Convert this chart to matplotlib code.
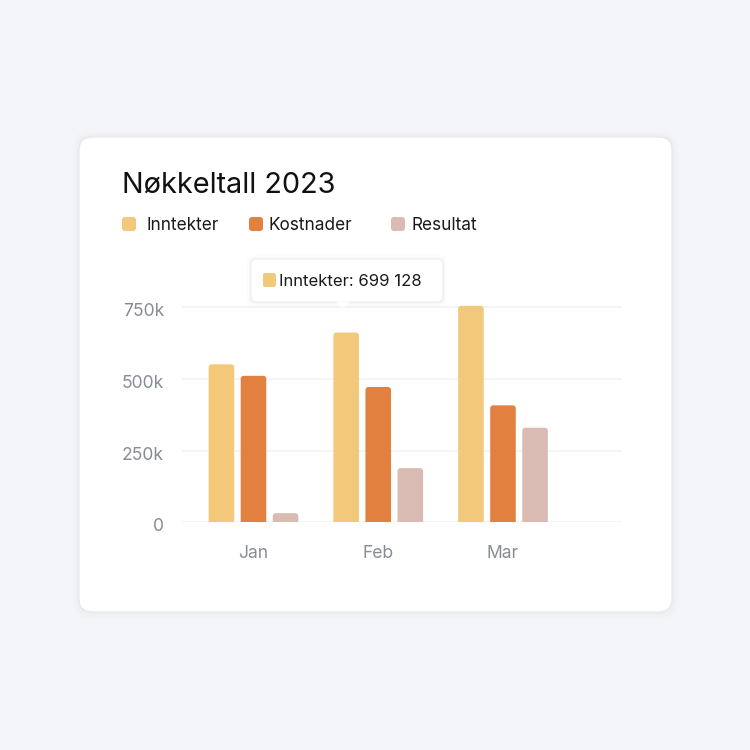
import matplotlib.pyplot as plt
from matplotlib.patches import FancyBboxPatch, Polygon
from matplotlib.transforms import ScaledTranslation
import numpy as np

plt.rcParams['font.family'] = ['Inter', 'DejaVu Sans']

# data
months = ['Jan', 'Feb', 'Mar']
series = ['Inntekter', 'Kostnader', 'Resultat']
inntekter = [551000, 662000, 755000]
kostnader = [511000, 472000, 408000]
resultat = [32000, 189000, 330000]
colors = ['#F2C97B', '#E2813F', '#D9BBB3']
yticks = [0, 250000, 500000, 750000]
ytick_labels = ['0', '250k', '500k', '750k']
tooltip_text = 'Inntekter: 699 128'

W = H = 750
fig = plt.figure(figsize=(7.5, 7.5), dpi=100)
fig.patch.set_facecolor('#f4f5f8')


def fx(px):
    return px / W


def fy(py):
    return 1 - py / H


# card shadow + card
for grow, alpha in [(6, 0.015), (4, 0.02), (2, 0.03)]:
    fig.patches.append(FancyBboxPatch(
        (fx(79 - grow), fy(612 + grow)), fx(593 + 2 * grow), (475 + 2 * grow) / H,
        boxstyle='round,pad=0,rounding_size=0.02', transform=fig.transFigure,
        facecolor='#9aa0b0', edgecolor='none', alpha=alpha, zorder=0))
fig.patches.append(FancyBboxPatch(
    (fx(79), fy(612)), fx(593), 475 / H,
    boxstyle='round,pad=0,rounding_size=0.018', transform=fig.transFigure,
    facecolor='white', edgecolor='#e6e7eb', linewidth=0.8, zorder=1))

# title
fig.text(fx(122), fy(185), 'Nøkkeltall 2023', fontsize=20.8, color='#111111',
         va='center', ha='left', zorder=5)

# legend
leg_x = [122, 249, 391]
txt_x = [147, 269, 411]
for i, name in enumerate(series):
    fig.patches.append(FancyBboxPatch(
        (fx(leg_x[i]), fy(231)), fx(14), 14 / H,
        boxstyle='round,pad=0,rounding_size=0.004', transform=fig.transFigure,
        facecolor=colors[i], edgecolor='none', zorder=5))
    fig.text(fx(txt_x[i]), fy(225.5), name, fontsize=12.4, color='#1a1a1a',
             va='center', ha='left', zorder=5)

# axes
ax_left, ax_right, ax_bottom = 182, 622, 522.3
px_per_unit_y = 215.0 / 750000
ymax = 780000
ax_top = ax_bottom - ymax * px_per_unit_y
ax = fig.add_axes([fx(ax_left), fy(ax_bottom), fx(ax_right - ax_left),
                   (ax_bottom - ax_top) / H])
ax.set_facecolor('none')
ax.set_zorder(3)

x = np.arange(len(months))
xmin, xmax = -0.573, 2.954
ax.set_xlim(xmin, xmax)
ax.set_ylim(0, ymax)

bar_w = 0.205
step = 0.257
x_per_px = (xmax - xmin) / (ax_right - ax_left)
y_per_px = 1 / px_per_unit_y
r = 3 * x_per_px
aspect = y_per_px / x_per_px

for i, vals in enumerate([inntekter, kostnader, resultat]):
    for xi, v in zip(x, vals):
        left = xi + (i - 1) * step - bar_w / 2
        ax.add_patch(FancyBboxPatch(
            (left, -5 * y_per_px), bar_w, v + 5 * y_per_px,
            boxstyle=f'round,pad=0,rounding_size={r}', mutation_aspect=aspect,
            facecolor=colors[i], edgecolor='none', zorder=3))

ax.set_yticks(yticks)
ax.set_yticklabels(ytick_labels)
ax.set_xticks(x)
ax.set_xticklabels(months)
ax.grid(axis='y', color='#f0f1f4', linewidth=1.1)
ax.set_axisbelow(True)
for s in ax.spines.values():
    s.set_visible(False)
ax.tick_params(length=0, labelsize=12.6, colors='#888c94')
ax.tick_params(axis='y', pad=13)
ax.tick_params(axis='x', pad=16)
shift = ScaledTranslation(0, -2.5 / 100, fig.dpi_scale_trans)
for lbl in ax.get_yticklabels():
    lbl.set_transform(lbl.get_transform() + shift)

# tooltip
tip_l, tip_t, tip_r, tip_b = 251, 259, 443, 302
for grow, alpha in [(4, 0.02), (2, 0.04)]:
    fig.patches.append(FancyBboxPatch(
        (fx(tip_l - grow), fy(tip_b + grow)), fx(tip_r - tip_l + 2 * grow),
        (tip_b - tip_t + 2 * grow) / H,
        boxstyle='round,pad=0,rounding_size=0.008', transform=fig.transFigure,
        facecolor='#7a8090', edgecolor='none', alpha=alpha, zorder=6))
fig.patches.append(FancyBboxPatch(
    (fx(tip_l), fy(tip_b)), fx(tip_r - tip_l), (tip_b - tip_t) / H,
    boxstyle='round,pad=0,rounding_size=0.007', transform=fig.transFigure,
    facecolor='white', edgecolor='#ececf0', linewidth=0.7, zorder=7))
fig.patches.append(Polygon(
    [(fx(336), fy(301.5)), (fx(350), fy(301.5)), (fx(343), fy(308))],
    closed=True, transform=fig.transFigure, facecolor='white',
    edgecolor='none', zorder=8))
fig.patches.append(FancyBboxPatch(
    (fx(263), fy(287)), fx(13), 14 / H,
    boxstyle='round,pad=0,rounding_size=0.003', transform=fig.transFigure,
    facecolor=colors[0], edgecolor='none', zorder=9))
fig.text(fx(279), fy(281.5), tooltip_text, fontsize=12.0, color='#1a1a1a',
         va='center', ha='left', zorder=9)

fig.savefig('out.png', dpi=100, facecolor=fig.get_facecolor())
